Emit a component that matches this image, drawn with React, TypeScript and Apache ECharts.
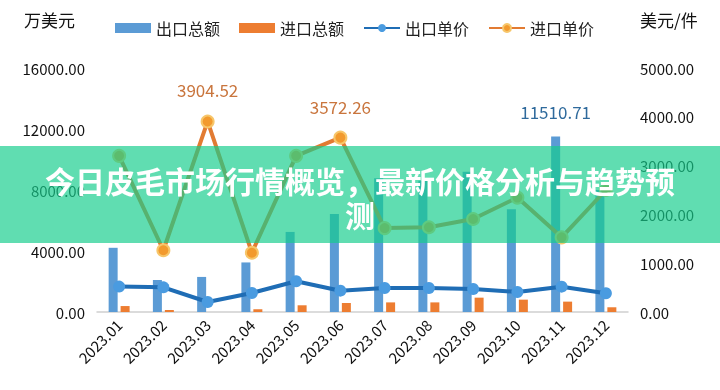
import React, { useEffect, useRef } from "react";
import * as echarts from "echarts";

const months = ["2023.01", "2023.02", "2023.03", "2023.04", "2023.05", "2023.06", "2023.07", "2023.08", "2023.09", "2023.10", "2023.11", "2023.12"];
const exportTotal = [4210, 2100, 2300, 3250, 5250, 6420, 8770, 8610, 9200, 6730, 11510.71, 8000];
const importTotal = [390, 130, 0, 180, 440, 590, 630, 630, 940, 810, 680, 310];
const exportPrice = [520, 505, 205, 390, 630, 437, 492, 492, 471, 410, 519, 383];
const importPrice = [3200, 1265, 3904.52, 1215, 3200, 3572.26, 1720, 1736, 1906, 2345, 1530, 2500];
const leftTicks = { min: 0, max: 16000, interval: 4000 };
const rightTicks = { min: 0, max: 5000, interval: 1000 };
const titleLine1 = "今日皮毛市场行情概览，最新价格分析与趋势预";
const titleLine2 = "测";
const labelledImportIdx = [2, 5];
const labelledExportIdx = [10];

const FONT = '"Noto Sans CJK SC", "Noto Sans", sans-serif';

export default function App() {
  const ref = useRef<HTMLDivElement>(null);
  useEffect(() => {
    if (!ref.current) return;
    const chart = echarts.init(ref.current, undefined, { renderer: "svg" });
    const fmt = (v: number) => Number(v).toFixed(2);
    chart.setOption({
      animation: false,
      textStyle: { fontFamily: FONT },
      legend: {
        left: 110,
        top: 15,
        itemWidth: 36,
        itemHeight: 10,
        itemGap: 19,
        textStyle: { fontSize: 16, color: "#222", fontFamily: FONT },
        data: [
          { name: "出口总额", icon: "rect" },
          { name: "进口总额", icon: "rect" },
          { name: "出口单价" },
          { name: "进口单价" },
        ],
      },
      grid: { left: 97, right: 92, top: 68, bottom: 78 },
      xAxis: {
        type: "category",
        data: months,
        axisLine: { show: true, lineStyle: { color: "#d0d0d0", width: 1.5 } },
        axisTick: { show: false },
        axisLabel: { rotate: 45, fontSize: 15, color: "#111", margin: 10, fontFamily: FONT },
      },
      yAxis: [
        {
          type: "value",
          name: "万美元",
          nameLocation: "end",
          nameGap: 40,
          nameTextStyle: { fontSize: 17, color: "#111", align: "right", padding: [0, 22, 0, 0], fontFamily: FONT },
          ...leftTicks,
          splitLine: { show: false },
          axisLine: { show: false },
          axisTick: { show: false },
          axisLabel: { fontSize: 15, color: "#111", margin: 12, formatter: fmt, fontFamily: FONT },
        },
        {
          type: "value",
          name: "美元/件",
          nameLocation: "end",
          nameGap: 40,
          nameTextStyle: { fontSize: 17, color: "#111", align: "left", padding: [0, 0, 0, 12], fontFamily: FONT },
          ...rightTicks,
          splitLine: { show: false },
          axisLine: { show: false },
          axisTick: { show: false },
          axisLabel: { fontSize: 15, color: "#111", margin: 12, formatter: fmt, fontFamily: FONT },
        },
      ],
      series: [
        {
          name: "出口总额",
          type: "bar",
          yAxisIndex: 0,
          barWidth: 9,
          barGap: "33%",
          itemStyle: { color: "#5b9bd5" },
          data: exportTotal.map((v, i) =>
            labelledExportIdx.includes(i)
              ? { value: v, label: { show: true, position: "top", distance: 16, fontSize: 17, color: "#2f6a9c", formatter: (p: any) => fmt(p.value) } }
              : v
          ),
        },
        {
          name: "进口总额",
          type: "bar",
          yAxisIndex: 0,
          barWidth: 9,
          itemStyle: { color: "#ed7d31" },
          data: importTotal,
        },
        {
          name: "出口单价",
          type: "line",
          yAxisIndex: 1,
          symbol: "circle",
          symbolSize: 12,
          z: 5,
          lineStyle: { color: "#1f6db5", width: 4 },
          itemStyle: { color: "#4a9be0" },
          data: exportPrice,
        },
        {
          name: "进口单价",
          type: "line",
          yAxisIndex: 1,
          symbol: "circle",
          symbolSize: 12,
          z: 6,
          lineStyle: { color: "#e27b32", width: 4 },
          itemStyle: { color: "#f29a2e", borderColor: "#f7c66a", borderWidth: 2 },
          data: importPrice.map((v, i) =>
            labelledImportIdx.includes(i)
              ? { value: v, label: { show: true, position: "top", distance: 16, fontSize: 17, color: "#c9753d", formatter: (p: any) => fmt(p.value) } }
              : v
          ),
        },
      ],
      graphic: [
        {
          type: "rect",
          z: 100,
          shape: { x: 0, y: 146, width: 720, height: 97 },
          style: { fill: "rgba(20,205,140,0.68)" },
        },
        {
          type: "text",
          z: 101,
          x: 360,
          y: 180,
          style: {
            text: titleLine1,
            fill: "#ffffff",
            fontSize: 30,
            fontWeight: "bold",
            fontFamily: '"Noto Sans CJK SC", sans-serif',
            align: "center",
            verticalAlign: "middle",
          },
        },
        {
          type: "text",
          z: 101,
          x: 360,
          y: 214,
          style: {
            text: titleLine2,
            fill: "#ffffff",
            fontSize: 30,
            fontWeight: "bold",
            fontFamily: '"Noto Sans CJK SC", sans-serif',
            align: "center",
            verticalAlign: "middle",
          },
        },
      ],
    });
    return () => chart.dispose();
  }, []);
  return <div ref={ref} style={{ position: "fixed", left: 0, top: 0, width: 720, height: 390 }} />;
}
